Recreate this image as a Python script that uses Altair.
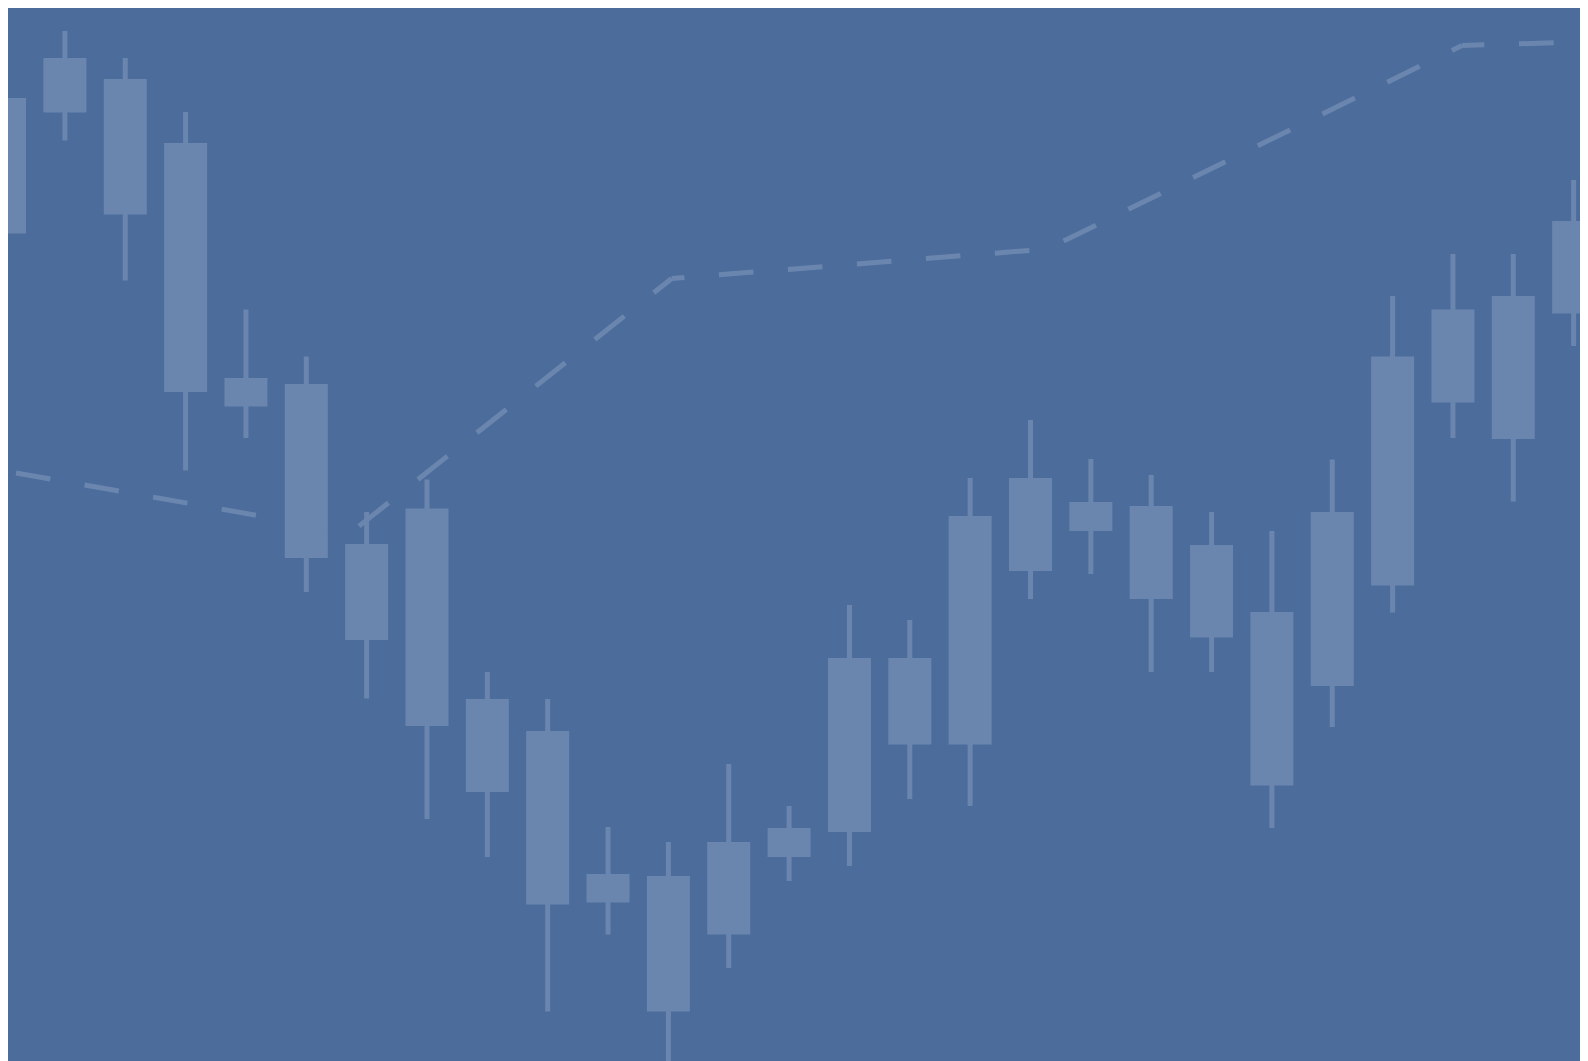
import altair as alt
import pandas as pd

# ---- data ----
day = list(range(27))
high = [307.4, 303.8, 298.4, 287.6, 248.1, 238.7, 207.6, 214.1, 175.6, 170.2,
        144.6, 141.6, 157.2, 148.8, 189.0, 186.0, 214.4, 226.0, 218.2, 215.0,
        207.6, 203.8, 218.1, 250.8, 259.2, 259.2, 274.0]
body_top = [290.4, 298.4, 294.2, 281.4, 234.4, 233.2, 201.2, 208.3, 170.2, 163.8,
            135.2, 134.8, 141.6, 144.4, 178.4, 178.4, 206.8, 214.4, 209.6, 208.8,
            201.0, 187.6, 207.6, 238.7, 248.1, 250.8, 265.8]
body_bottom = [263.3, 287.5, 267.1, 231.6, 228.7, 198.4, 182.0, 164.8, 151.6, 129.1,
               129.5, 107.7, 123.1, 138.6, 143.6, 161.1, 161.1, 195.8, 203.8, 190.2,
               182.5, 152.9, 172.8, 192.9, 229.5, 222.2, 247.3]
low = [256.5, 281.9, 253.9, 215.9, 222.4, 191.6, 170.3, 146.2, 138.6, 107.7,
       123.1, 95.0, 116.4, 133.8, 136.8, 150.2, 148.8, 190.2, 195.2, 175.6,
       175.6, 144.4, 164.6, 187.5, 222.4, 209.7, 240.8]

trend_day = [0.19, 5.751, 11.056, 17.283, 24.15, 26.105]
trend_value = [215.4, 203.6, 254.3, 260.2, 300.9, 301.6]

BG = "#4c6c9c"
FG = "#6b86ae"
W, H = 1572, 1053
x_domain = [0.0572, 0.0572 + W / 60.35]
y_domain = [310 - 0.2 * (8 + H), 310 - 0.2 * 8]

candles = pd.DataFrame({"day": day, "high": high, "low": low,
                        "top": body_top, "bottom": body_bottom})

xs = alt.Scale(domain=x_domain, zero=False, nice=False, padding=0)
ys = alt.Scale(domain=y_domain, zero=False, nice=False, padding=0)

wicks = alt.Chart(candles).mark_rule(color=FG, strokeWidth=5, clip=True).encode(
    x=alt.X("day:Q", scale=xs, axis=None),
    y=alt.Y("high:Q", scale=ys, axis=None),
    y2="low:Q",
)
bodies = alt.Chart(candles).mark_bar(color=FG, size=43, clip=True).encode(
    x=alt.X("day:Q", scale=xs, axis=None),
    y=alt.Y("top:Q", scale=ys, axis=None),
    y2="bottom:Q",
)

# dashed trend line, one layer per segment (period, dash, offset)
dash_cfg = [(69.6, 34.8, 0.0), (75.2, 37.6, 65.8), (69.2, 34.6, 21.9),
            (72.1, 36.05, 54.2), (69.4, 34.7, 12.4)]
segments = []
for i, (period, dash, off) in enumerate(dash_cfg):
    seg = pd.DataFrame({"day": trend_day[i:i + 2], "value": trend_value[i:i + 2]})
    segments.append(
        alt.Chart(seg).mark_line(color=FG, strokeWidth=5, strokeCap="butt",
                                 strokeDash=[dash, period - dash],
                                 strokeDashOffset=off, clip=True).encode(
            x=alt.X("day:Q", scale=xs, axis=None),
            y=alt.Y("value:Q", scale=ys, axis=None),
        )
    )

chart = alt.layer(wicks, bodies, *segments).properties(
    width=W, height=H, background=BG,
    autosize=alt.AutoSizeParams(type="none"), padding=0,
).configure_view(strokeWidth=0, fill=BG)

chart.save("out.html", embed_options={"renderer": "svg", "actions": False})
